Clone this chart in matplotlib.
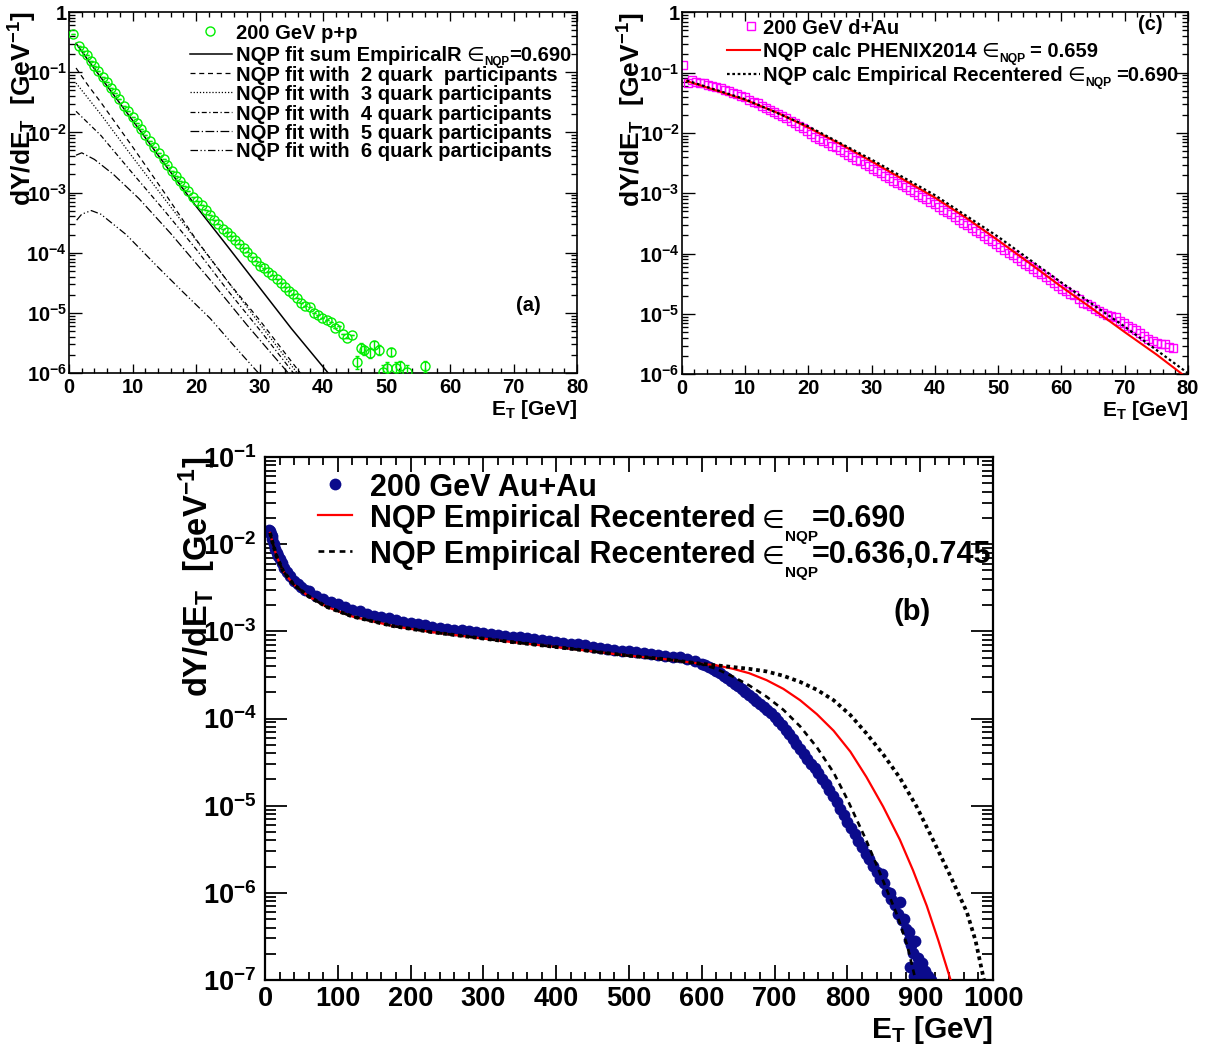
#!/usr/bin/env python3
# -*- coding: utf-8 -*-
"""
NQP 横能量分布三联图 (p+p / d+Au / Au+Au, 200 GeV)
"""

import numpy as np
import matplotlib
matplotlib.use('Agg')
import matplotlib.pyplot as plt
from matplotlib.ticker import MultipleLocator, LogLocator, FixedLocator, NullFormatter

# ---------------- 数据 (y 以 log10 给出) ----------------
# (a) 200 GeV p+p
pp_et = [0.7, 1.5, 2.2, 2.8, 3.4, 4.0, 4.6, 5.3, 5.9, 6.6, 7.2, 7.9, 8.7, 9.3,
         10.0, 10.7, 11.3, 12.0, 12.8, 13.4, 14.1, 14.9, 15.5, 16.2, 16.9, 17.5,
         18.1, 18.8, 19.5, 20.1, 20.9, 21.6, 22.2, 22.9, 23.5, 24.2, 24.8, 25.5,
         26.2, 26.8, 27.5, 28.1, 28.8, 29.4, 30.1, 30.7, 31.4, 32.0, 32.7, 33.3,
         34.0, 34.6, 35.3, 35.9, 36.6, 37.2, 37.9, 38.6, 39.2, 39.9, 40.6, 41.2,
         41.9, 42.5, 43.2, 43.8, 44.5, 45.3, 46.0, 46.4, 47.4, 48.0, 48.8, 49.4,
         50.0, 50.7, 51.5, 52.1, 53.2, 56.0]
pp_log_y = [-0.37, -0.57, -0.64, -0.72, -0.81, -0.89, -0.98, -1.08, -1.17, -1.27,
            -1.35, -1.45, -1.56, -1.65, -1.75, -1.85, -1.94, -2.04, -2.15, -2.24,
            -2.34, -2.45, -2.54, -2.64, -2.73, -2.81, -2.89, -2.98, -3.07, -3.14,
            -3.21, -3.29, -3.37, -3.45, -3.52, -3.60, -3.66, -3.72, -3.79, -3.85,
            -3.92, -3.99, -4.07, -4.14, -4.22, -4.26, -4.32, -4.37, -4.44, -4.51,
            -4.57, -4.63, -4.69, -4.76, -4.83, -4.88, -4.91, -5.00, -5.03, -5.08,
            -5.12, -5.16, -5.25, -5.22, -5.35, -5.42, -5.37, -5.81, -5.58, -5.62,
            -5.66, -5.53, -5.61, -5.98, -5.92, -5.65, -5.92, -5.89, -5.98, -5.88]
# 尾部误差 (相对值), 前面的点误差小于标记
pp_rel_err = [0.0] * 67 + [0.25, 0.18, 0.18, 0.2, 0.15, 0.2, 0.3, 0.25, 0.15,
                           0.25, 0.25, 0.3, 0.2]

# (a) NQP 拟合曲线
sum_et = [1.1, 3, 6, 10, 15, 19.65, 25, 30, 35, 41.5]
sum_log_y = [-0.52, -0.80, -1.23, -1.80, -2.52, -3.18, -3.90, -4.58, -5.26, -6.09]
q2_et = [1.1, 3, 5, 10, 15, 20, 25, 30, 37.0]
q2_log_y = [-0.93, -1.22, -1.50, -2.24, -3.00, -3.78, -4.48, -5.12, -6.08]
q3_et = [1.1, 5, 10, 15, 20, 25, 30, 36.5]
q3_log_y = [-1.18, -1.70, -2.41, -3.10, -3.79, -4.48, -5.18, -6.08]
q4_et = [1.1, 5, 10, 15, 20, 25, 30, 36.0]
q4_log_y = [-1.65, -2.05, -2.68, -3.30, -3.94, -4.63, -5.28, -6.09]
q5_et = [1.1, 2, 4, 7, 11, 16, 22.2, 28, 35.0]
q5_log_y = [-2.38, -2.34, -2.45, -2.70, -3.10, -3.68, -4.45, -5.20, -6.06]
q6_et = [1.2, 2, 3.5, 5, 9, 14, 18, 22.2, 26, 30.5]
q6_log_y = [-3.46, -3.36, -3.30, -3.36, -3.70, -4.24, -4.66, -5.09, -5.55, -6.08]

# (c) 200 GeV d+Au
dau_first_et = [0.25, 1.05]
dau_first_log_y = [-0.87, -1.17]
dau_bin_start, dau_bin_width = 1.6, 0.65
dau_log_y = [-1.13, -1.15, -1.17, -1.18, -1.20, -1.22, -1.24, -1.26, -1.29, -1.31,
             -1.33, -1.36, -1.39, -1.41, -1.45, -1.48, -1.51, -1.55, -1.58, -1.62,
             -1.65, -1.68, -1.72, -1.76, -1.80, -1.84, -1.88, -1.92, -1.97, -2.02,
             -2.06, -2.10, -2.13, -2.17, -2.21, -2.24, -2.28, -2.32, -2.36, -2.40,
             -2.44, -2.47, -2.51, -2.55, -2.59, -2.63, -2.67, -2.71, -2.75, -2.79,
             -2.83, -2.87, -2.90, -2.94, -2.98, -3.02, -3.06, -3.10, -3.14, -3.18,
             -3.22, -3.27, -3.31, -3.35, -3.40, -3.44, -3.49, -3.53, -3.57, -3.62,
             -3.66, -3.70, -3.75, -3.79, -3.84, -3.89, -3.94, -3.99, -4.03, -4.08,
             -4.12, -4.17, -4.20, -4.25, -4.30, -4.34, -4.39, -4.44, -4.48, -4.53,
             -4.58, -4.62, -4.67, -4.69, -4.75, -4.81, -4.83, -4.87, -4.91, -4.95,
             -4.98, -5.01, -5.04, -5.05, -5.11, -5.15, -5.20, -5.24, -5.26, -5.32,
             -5.36, -5.41, -5.44, -5.48, -5.49, -5.50, -5.54, -5.57]
# (c) NQP 计算曲线
phenix_et = [0.8, 5, 10, 15, 20, 25, 30, 35, 40, 45, 50, 55, 60, 65, 70, 75, 80]
phenix_log_y = [-1.14, -1.28, -1.45, -1.66, -1.91, -2.18, -2.47, -2.77, -3.07,
                -3.41, -3.78, -4.16, -4.55, -4.92, -5.30, -5.67, -6.07]
emp_c_et = [0.8, 10, 20, 30, 40, 50, 60, 70, 80.5]
emp_c_log_y = [-1.13, -1.44, -1.89, -2.44, -3.03, -3.72, -4.48, -5.21, -6.02]

# (b) 200 GeV Au+Au
aa_et = [5, 6, 7, 8, 9, 10, 12, 14, 16, 18, 20, 23, 26, 30, 35, 40, 45, 50, 55, 60,
         70, 80, 90, 100, 110, 120, 130, 140, 150, 160, 170, 180, 190, 200, 210,
         220, 230, 240, 250, 260, 270, 280, 290, 300, 310, 320, 330, 340, 350, 360,
         370, 380, 390, 400, 410, 420, 430, 440, 450, 460, 470, 480, 490, 500, 510,
         520, 530, 540, 550, 560, 570, 580, 590, 600, 605, 610, 615, 620, 625, 630,
         635, 640, 645, 650, 655, 660, 665, 670, 675, 680, 685, 690, 695, 700, 705,
         710, 715, 720, 725, 730, 735, 740, 745, 750, 755, 760, 765, 770, 775, 780,
         785, 790, 795, 800, 805, 810, 815, 820, 825, 830, 835, 840, 845, 850, 855,
         860, 865, 870, 875, 880, 885, 890, 895, 900, 905,
         848, 858, 872, 878, 884, 888, 893, 897, 902, 906, 910, 915, 898, 892, 886]
aa_log_y = [-1.86, -1.84, -1.85, -1.88, -1.91, -1.94, -2.00, -2.05, -2.10, -2.14,
            -2.17, -2.22, -2.27, -2.32, -2.37, -2.42, -2.46, -2.49, -2.52, -2.54,
            -2.59, -2.63, -2.66, -2.69, -2.72, -2.75, -2.77, -2.80, -2.82, -2.84,
            -2.85, -2.87, -2.89, -2.90, -2.92, -2.93, -2.95, -2.96, -2.97, -2.98,
            -2.99, -3.00, -3.01, -3.02, -3.03, -3.04, -3.05, -3.06, -3.07, -3.08,
            -3.09, -3.10, -3.11, -3.12, -3.13, -3.14, -3.15, -3.16, -3.18, -3.19,
            -3.20, -3.21, -3.22, -3.23, -3.24, -3.25, -3.26, -3.27, -3.28, -3.29,
            -3.30, -3.32, -3.34, -3.37, -3.39, -3.41, -3.43, -3.45, -3.48, -3.51,
            -3.54, -3.57, -3.60, -3.63, -3.66, -3.70, -3.73, -3.76, -3.80, -3.83,
            -3.87, -3.90, -3.94, -3.98, -4.03, -4.08, -4.13, -4.18, -4.24, -4.29,
            -4.35, -4.41, -4.46, -4.52, -4.57, -4.63, -4.69, -4.75, -4.82, -4.89,
            -4.96, -5.04, -5.11, -5.19, -5.26, -5.33, -5.40, -5.47, -5.55, -5.61,
            -5.69, -5.76, -5.84, -5.89, -5.99, -6.07, -6.14, -6.24, -6.31, -6.41,
            -6.54, -6.69, -6.84, -6.95, -7.02,
            -5.78, -6.00, -6.10, -6.30, -6.45, -6.60, -6.55, -6.75, -6.80, -6.90,
            -6.95, -7.00, -7.00, -6.95, -6.85]
# (b) NQP 曲线
aa_red_et = [7, 10, 16, 25, 39, 60, 85, 120, 176, 230, 268, 336, 400, 460, 500,
             550, 597, 620, 643, 665, 689, 712, 735, 758, 781, 804, 826, 849, 872,
             890, 909, 925, 941, 944]
aa_red_log_y = [-1.87, -1.97, -2.14, -2.31, -2.46, -2.60, -2.72, -2.83, -2.94,
                -3.01, -3.05, -3.12, -3.18, -3.24, -3.28, -3.32, -3.37, -3.39,
                -3.43, -3.48, -3.56, -3.66, -3.79, -3.95, -4.14, -4.38, -4.67,
                -5.01, -5.39, -5.74, -6.15, -6.55, -6.98, -7.06]
aa_lo_et = [7, 10, 16, 25, 39, 60, 85, 120, 176, 230, 268, 336, 400, 460, 500,
            550, 597, 620, 643, 665, 689, 712, 735, 758, 781, 800, 826, 845, 868,
            882, 893, 896]
aa_lo_log_y = [-1.87, -1.97, -2.14, -2.31, -2.46, -2.60, -2.72, -2.83, -2.94,
               -3.01, -3.05, -3.12, -3.18, -3.24, -3.28, -3.32, -3.37, -3.43,
               -3.52, -3.62, -3.75, -3.90, -4.09, -4.33, -4.62, -4.93, -5.40,
               -5.78, -6.25, -6.60, -6.98, -7.06]
aa_hi_et = [7, 10, 16, 25, 39, 60, 85, 120, 176, 230, 268, 336, 400, 460, 500,
            550, 597, 620, 643, 665, 689, 712, 735, 758, 781, 804, 826, 849, 872,
            895, 918, 941, 964, 976, 987, 990]
aa_hi_log_y = [-1.87, -1.97, -2.14, -2.31, -2.46, -2.60, -2.72, -2.83, -2.94,
               -3.01, -3.05, -3.12, -3.18, -3.24, -3.28, -3.32, -3.37, -3.39,
               -3.41, -3.43, -3.46, -3.51, -3.58, -3.67, -3.79, -3.96, -4.17,
               -4.41, -4.68, -5.01, -5.40, -5.80, -6.22, -6.55, -6.98, -7.06]

FONT = ['Liberation Sans', 'DejaVu Sans']
AA_BLUE = '#0b0b8c'
YLABEL = r'dY/dE$_{T}$  [GeV$^{-1}$]'


def setup_style():
    """ROOT 风格: 粗体无衬线字体"""
    plt.rcParams['font.family'] = FONT
    plt.rcParams['font.weight'] = 'bold'
    plt.rcParams['axes.labelweight'] = 'bold'
    plt.rcParams['mathtext.fontset'] = 'custom'
    plt.rcParams['mathtext.rm'] = 'Liberation Sans:bold'
    plt.rcParams['mathtext.it'] = 'Liberation Sans:bold'
    plt.rcParams['mathtext.bf'] = 'Liberation Sans:bold'
    plt.rcParams['mathtext.sf'] = 'Liberation Sans:bold'
    plt.rcParams['mathtext.default'] = 'rm'


def style_axes(ax, xmax, xmajor, xminor, dec_lo, dec_hi, fs, xlen, ylen, lw, pad_x, pad_y):
    """坐标轴: 线性 x, 对数 y, 四边向内刻度"""
    ax.set_yscale('log')
    ax.set_xlim(0, xmax)
    ax.set_ylim(10.0 ** dec_lo, 10.0 ** dec_hi)
    ax.xaxis.set_major_locator(MultipleLocator(xmajor))
    ax.xaxis.set_minor_locator(MultipleLocator(xminor))
    decades = np.arange(dec_lo, dec_hi + 1)
    ax.yaxis.set_major_locator(FixedLocator(10.0 ** decades))
    ax.set_yticklabels(['1' if d == 0 else r'$10^{%d}$' % d for d in decades])
    ax.yaxis.set_minor_locator(LogLocator(base=10, subs=np.arange(2, 10)))
    ax.yaxis.set_minor_formatter(NullFormatter())
    ax.tick_params(which='both', direction='in', top=True, right=True, width=lw * 0.8)
    ax.tick_params(axis='x', which='major', length=xlen, pad=pad_x, labelsize=fs)
    ax.tick_params(axis='x', which='minor', length=xlen * 0.5)
    ax.tick_params(axis='y', which='major', length=ylen, pad=pad_y, labelsize=fs)
    ax.tick_params(axis='y', which='minor', length=ylen * 0.5)
    for sp in ax.spines.values():
        sp.set_linewidth(lw)


def key_line(ax, x0, x1, y, **kw):
    ax.plot([x0, x1], [y, y], transform=ax.transAxes, clip_on=False, **kw)


def key_text(ax, x, y, label, fs):
    return ax.text(x, y, label, transform=ax.transAxes, fontsize=fs, fontweight='bold',
                   ha='left', va='center_baseline')


def key_text_eps(ax, x, y, head, tail, fs, sub_scale, drop, gap_tail=0.0, eps_scale=1.0):
    """带 ε_NQP 下标的图例文字 (ROOT 式的小而低的下标)"""
    t0 = key_text(ax, x, y, head, fs)
    t1 = ax.annotate('∈', xy=(1, 0), xycoords=t0, xytext=(0.2 * fs, 0),
                     textcoords='offset points', fontsize=eps_scale * fs,
                     fontweight='normal', family=['DejaVu Sans'], ha='left', va='bottom')
    t2 = ax.annotate('NQP', xy=(1, 0), xycoords=(t1, t0), xytext=(0.5, -drop * fs),
                     textcoords='offset points', fontsize=sub_scale * fs,
                     fontweight='bold', ha='left', va='bottom')
    ax.annotate(tail, xy=(1, 0), xycoords=(t2, t0), xytext=(gap_tail * fs, 0),
                textcoords='offset points', fontsize=fs, fontweight='bold',
                ha='left', va='bottom')


def panel_a(fig):
    """(a) p+p 及各夸克参与者拟合"""
    ax = fig.add_axes([0.0573, 0.6441, 0.4216, 0.3444])
    yerr = np.array(pp_rel_err) * np.power(10.0, pp_log_y)
    ax.errorbar(pp_et, np.power(10.0, pp_log_y), yerr=yerr, fmt='o', ms=6.5,
                mfc='none', mec='#00ee00', mew=1.0, ecolor='#00ee00', elinewidth=1.0,
                capsize=1.5, zorder=3)
    curves = [
        (sum_et, sum_log_y, '-', 1.1),
        (q2_et, q2_log_y, (0, (4, 3)), 0.9),
        (q3_et, q3_log_y, (0, (1, 1.5)), 0.9),
        (q4_et, q4_log_y, (0, (4, 2, 1, 2)), 0.9),
        (q5_et, q5_log_y, (0, (7, 2, 1, 2)), 0.9),
        (q6_et, q6_log_y, (0, (6, 2, 1, 2, 1, 2)), 0.9),
    ]
    for et, ly, ls, lw in curves:
        ax.plot(et, np.power(10.0, ly), color='black', linestyle=ls, linewidth=lw)
    style_axes(ax, 80, 10, 2, -6, 0, 14.5, 6.5, 9, 1.2, 3.5, 1.5)
    ax.set_xlabel(r'E$_{T}$ [GeV]', fontsize=15, loc='right')
    ax.xaxis.set_label_coords(1.0, -0.068)
    ax.set_ylabel(YLABEL, fontsize=19, loc='top')
    ax.yaxis.set_label_coords(-0.060, 1.0)

    # 图例
    fs = 14.5
    rows = [0.947, 0.884, 0.831, 0.778, 0.723, 0.670, 0.618]
    ax.plot([0.278], [rows[0]], 'o', ms=6.5, mfc='none', mec='#00ee00', mew=1.0,
            transform=ax.transAxes, clip_on=False)
    key_text(ax, 0.329, rows[0], '200 GeV p+p', fs)
    labels = [None,
              'NQP fit with  2 quark  participants',
              'NQP fit with  3 quark participants',
              'NQP fit with  4 quark participants',
              'NQP fit with  5 quark participants',
              'NQP fit with  6 quark participants']
    for (et, ly, ls, lw), lab, y in zip(curves, labels, rows[1:]):
        key_line(ax, 0.238, 0.321, y, color='black', linestyle=ls, linewidth=lw)
        if lab is None:
            key_text_eps(ax, 0.329, y, 'NQP fit sum EmpiricalR', '=0.690', fs, 0.58, 0.12)
        else:
            key_text(ax, 0.329, y, lab, fs)
    ax.text(0.904, 0.188, '(a)', transform=ax.transAxes, fontsize=14.5,
            ha='center', va='center')


def panel_c(fig):
    """(c) d+Au"""
    ax = fig.add_axes([0.5657, 0.6428, 0.4202, 0.3455])
    dau_et = np.concatenate([dau_first_et,
                             dau_bin_start + dau_bin_width * np.arange(len(dau_log_y))])
    dau_y = np.power(10.0, np.concatenate([dau_first_log_y, dau_log_y]))
    ax.plot(dau_et, dau_y, 's', ms=5.8, mfc='none', mec='#ff00ff', mew=1.0, zorder=2)
    ax.plot(phenix_et, np.power(10.0, phenix_log_y), color='red', linewidth=1.5, zorder=3)
    ax.plot(emp_c_et, np.power(10.0, emp_c_log_y), color='black',
            linestyle=(0, (1.2, 1.2)), linewidth=1.6, zorder=4)
    style_axes(ax, 80, 10, 2, -6, 0, 14.5, 6.5, 9, 1.2, 3.5, 1.5)
    ax.set_xlabel(r'E$_{T}$ [GeV]', fontsize=15, loc='right')
    ax.xaxis.set_label_coords(1.0, -0.068)
    ax.set_ylabel(YLABEL, fontsize=19, loc='top')
    ax.yaxis.set_label_coords(-0.066, 1.0)

    fs = 14.5
    ax.plot([0.137], [0.962], 's', ms=5.8, mfc='none', mec='#ff00ff', mew=1.0,
            transform=ax.transAxes, clip_on=False)
    key_text(ax, 0.161, 0.962, '200 GeV d+Au', fs)
    key_line(ax, 0.0895, 0.155, 0.896, color='red', linewidth=1.5)
    key_text_eps(ax, 0.161, 0.896, 'NQP calc PHENIX2014', '= 0.659', fs, 0.6, 0.2, 0.25)
    key_line(ax, 0.0895, 0.155, 0.830, color='black', linestyle=(0, (1.2, 1.2)),
             linewidth=1.6)
    key_text_eps(ax, 0.161, 0.830, 'NQP calc Empirical Recentered', '=0.690', fs,
                 0.6, 0.2, 0.25)
    ax.text(0.925, 0.965, '(c)', transform=ax.transAxes, fontsize=14.5,
            ha='center', va='center')


def panel_b(fig):
    """(b) Au+Au"""
    ax = fig.add_axes([0.2199, 0.0649, 0.6042, 0.4990])
    ax.plot(aa_et, np.power(10.0, aa_log_y), 'o', ms=8.5, color=AA_BLUE,
            markeredgewidth=0, zorder=2)
    ax.plot(aa_red_et, np.power(10.0, aa_red_log_y), color='red', linewidth=1.6, zorder=3)
    ax.plot(aa_lo_et, np.power(10.0, aa_lo_log_y), color='black',
            linestyle=(0, (2.2, 1.8)), linewidth=1.9, zorder=4)
    ax.plot(aa_hi_et, np.power(10.0, aa_hi_log_y), color='black',
            linestyle=(0, (1.0, 1.0)), linewidth=2.7, zorder=4)
    style_axes(ax, 1000, 100, 20, -7, -1, 19.5, 11, 16, 1.6, 4, 6)
    ax.set_xlabel(r'E$_{T}$ [GeV]', fontsize=21.5, loc='right')
    ax.xaxis.set_label_coords(1.0, -0.066)
    ax.set_ylabel(YLABEL, fontsize=23.5, loc='top')
    ax.yaxis.set_label_coords(-0.065, 1.0)

    fs = 22
    ax.plot([0.096], [0.948], 'o', ms=8.5, color=AA_BLUE, markeredgewidth=0,
            transform=ax.transAxes, clip_on=False)
    key_text(ax, 0.144, 0.948, '200 GeV Au+Au', fs)
    key_line(ax, 0.073, 0.120, 0.889, color='red', linewidth=1.6)
    key_text_eps(ax, 0.144, 0.889, 'NQP Empirical Recentered', '=0.690', fs,
                 0.5, 0.33, -0.2, 0.85)
    key_line(ax, 0.073, 0.120, 0.820, color='black', linestyle=(0, (2.2, 1.8)),
             linewidth=1.9)
    key_text_eps(ax, 0.144, 0.820, 'NQP Empirical Recentered', '=0.636,0.745', fs,
                 0.5, 0.33, -0.2, 0.85)
    ax.text(0.889, 0.704, '(b)', transform=ax.transAxes, fontsize=21,
            ha='center', va='center')


def main():
    setup_style()
    fig = plt.figure(figsize=(12.05, 10.48), dpi=100)
    panel_a(fig)
    panel_c(fig)
    panel_b(fig)
    fig.savefig('out.png', dpi=100)
    plt.close(fig)


if __name__ == "__main__":
    main()
